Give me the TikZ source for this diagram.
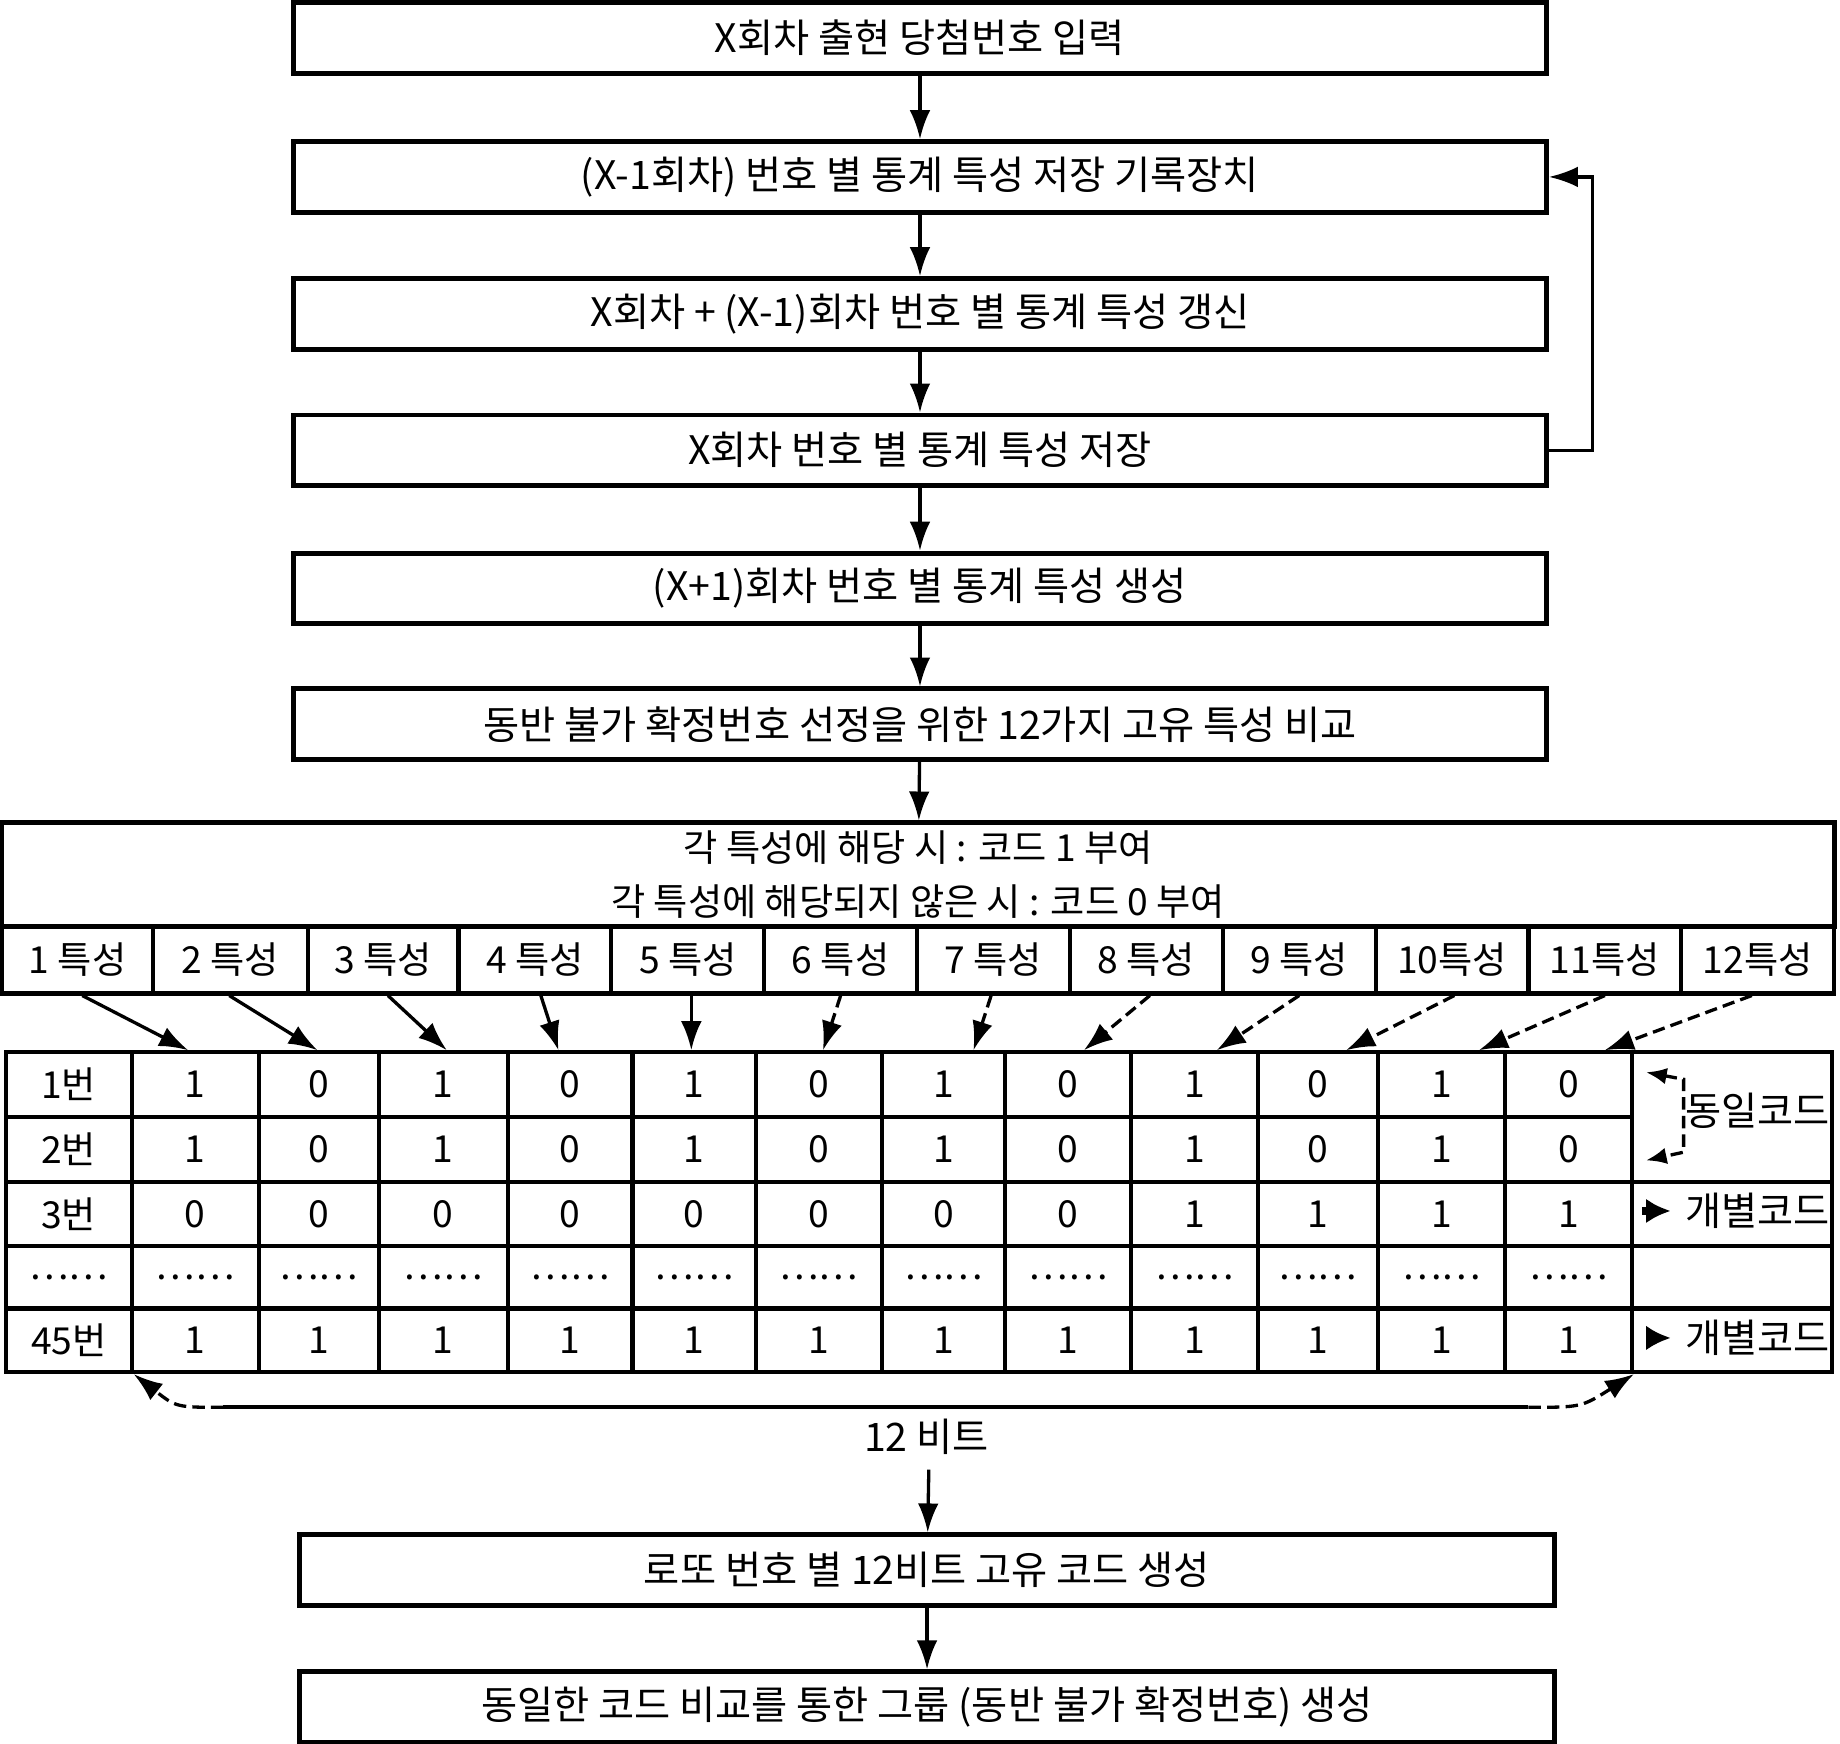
\documentclass[tikz,border=0pt]{standalone}
\usepackage{fontspec}
\setmainfont{Noto Sans CJK KR}
\usetikzlibrary{arrows.meta}
\begin{document}
\begin{tikzpicture}[x=0.01cm,y=-0.01cm,
  box/.style={draw,line width=1.2pt,minimum width=10.65cm,minimum height=0.6cm,inner sep=0pt,font=\fontsize{9.5}{12}\selectfont},
  cell/.style={draw,line width=1pt,inner sep=0pt,font=\fontsize{9}{10}\selectfont},
  arr/.style={-{Latex[length=7pt,width=5pt]},line width=0.8pt},
  darr/.style={-{Latex[length=7pt,width=5pt]},line width=0.8pt,dash pattern=on 3pt off 1.5pt}]
\useasboundingbox (0,0) rectangle (1565,1483);
\node[box] (b1) at (782.5,32.5) {X회차 출현 당첨번호 입력};
\node[box] (b2) at (782.5,150.5) {(X-1회차) 번호 별 통계 특성 저장 기록장치};
\node[box] (b3) at (782.5,267) {X회차 + (X-1)회차 번호 별 통계 특성 갱신};
\node[box] (b4) at (782.5,383) {X회차 번호 별 통계 특성 저장};
\node[box] (b5) at (782.5,500.5) {(X+1)회차 번호 별 통계 특성 생성};
\node[box] (b6) at (782.5,616) {동반 불가 확정번호 선정을 위한 12가지 고유 특성 비교};
\node[box,minimum width=15.58cm,minimum height=0.88cm,align=center,font=\fontsize{9}{13}\selectfont] (big) at (781,744) {각 특성에 해당 시 : 코드 1 부여\\각 특성에 해당되지 않은 시 : 코드 0 부여};
\foreach \a/\b in {b1/b2,b2/b3,b3/b4,b4/b5,b5/b6,b6/big} \draw[arr] (\a) -- (\b);
\draw[arr] (b4.east) -- ++(37,0) |- (b2.east);
% feature row
\foreach \l/\r/\t [count=\i] in {2/130/1 특성,130/262/2 특성,262/390/3 특성,390/520/4 특성,520/650/5 특성,650/780/6 특성,780/910/7 특성,910/1040/8 특성,1040/1170/9 특성,1170/1300/10특성,1300/1430/11특성,1430/1560/12특성}
  \node[cell,minimum width={(\r-\l)*0.01cm},minimum height=0.57cm] (f\i) at ({(\l+\r)/2},816.5) {\t};
% table
\foreach \rw/\yt/\yb/\vals in {1/895/950/{1번,1,0,1,0,1,0,1,0,1,0,1,0},2/950/1005/{2번,1,0,1,0,1,0,1,0,1,0,1,0},3/1005/1060/{3번,0,0,0,0,0,0,0,0,1,1,1,1},4/1060/1113/{……,……,……,……,……,……,……,……,……,……,……,……,……},5/1113/1167/{45번,1,1,1,1,1,1,1,1,1,1,1,1}}{
  \foreach \l/\r [count=\cc] in {5/112,112/220,220/322,322/432,432/538,538/643,643/750,750/855,855/962,962/1070,1070/1172,1172/1280,1280/1388}{
    \node[cell,minimum width={(\r-\l)*0.01cm},minimum height={(\yb-\yt)*0.01cm}] (c-\rw-\cc) at ({(\l+\r)/2},{(\yt+\yb)/2}) {\foreach \x [count=\k] in \vals {\ifnum\k=\cc\relax\x\fi}};
  }
}
\draw[line width=1pt] (1388,895) rectangle (1558,1005);
\draw[line width=1pt] (1388,1005) rectangle (1558,1060);
\draw[line width=1pt] (1388,1060) rectangle (1558,1113);
\draw[line width=1pt] (1388,1113) rectangle (1558,1167);
% feature arrows
\foreach \i/\sx/\ex in {1/70/160,2/195/270,3/330/380,4/460/475,5/588/588}
  \draw[arr] (f\i.south -| \sx,0) -- (c-1-\the\numexpr\i+1\relax.north -| \ex,0);
\foreach \i/\sx/\ex in {6/715/700,7/843/828,8/978/922,9/1105/1035,10/1237/1145,11/1365/1258,12/1490/1365}
  \draw[darr] (f\i.south -| \sx,0) -- (c-1-\the\numexpr\i+1\relax.north -| \ex,0);
% right labels
\node[font=\fontsize{9.5}{11}\selectfont] (same) at (1495,945) {동일코드};
\coordinate (s1) at (1400,912); \coordinate (s2) at (1400,987);
\draw[darr,{Latex[length=5pt,width=4pt]}-{Latex[length=5pt,width=4pt]}] (s1) -- (1432,918) -- (1432,980) -- (s2);
\node[font=\fontsize{9.5}{11}\selectfont] (ind1) at (1495,1030) {개별코드};
\draw[-{Latex[length=6pt,width=6pt]},line width=2pt] (1397,1030) -- (ind1.west);
\node[font=\fontsize{9.5}{11}\selectfont] (ind2) at (1495,1138) {개별코드};
\draw[-{Latex[length=6pt,width=6pt]},line width=1pt] (1415,1138) -- (ind2.west);
% 12 bits
\coordinate (L1) at (190,1197); \coordinate (R1) at (1300,1197);
\draw[line width=1pt] (L1) -- (R1);
\draw[darr] (L1) .. controls (150,1197) .. (c-5-1.south east);
\draw[darr] (R1) .. controls (1345,1197) .. (c-5-13.south east);
\node[font=\fontsize{9.5}{11}\selectfont] (bits) at (788,1222) {12 비트};
\node[box,minimum width=10.67cm] (b7) at (788.5,1335.5) {로또 번호 별 12비트 고유 코드 생성};
\node[box,minimum width=10.67cm] (b8) at (788.5,1452) {동일한 코드 비교를 통한 그룹 (동반 불가 확정번호) 생성};
\coordinate (bs) at (790,1250);
\draw[arr] (bs) -- (b7);
\draw[arr] (b7) -- (b8);
\end{tikzpicture}
\end{document}
